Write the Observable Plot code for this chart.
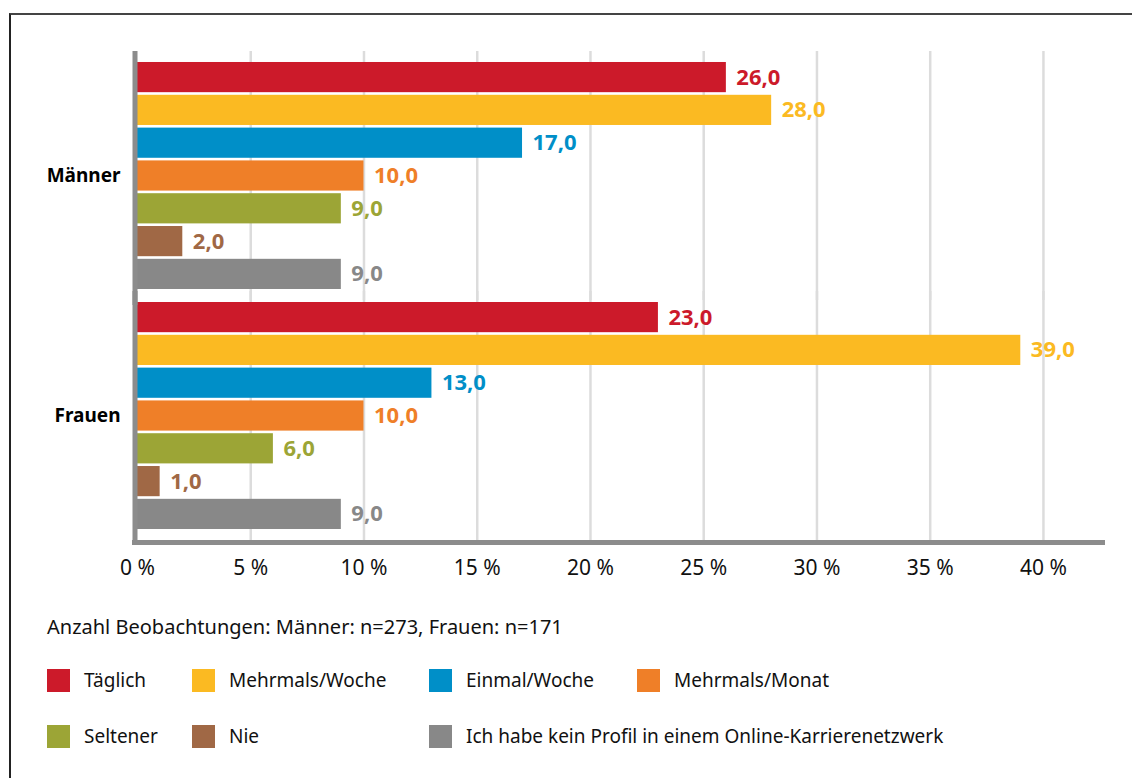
<!DOCTYPE html>
<html>
<head>
<meta charset="utf-8">
<script src="https://cdn.jsdelivr.net/npm/d3@7"></script>
<script src="https://cdn.jsdelivr.net/npm/@observablehq/plot@0.6"></script>
<style>
  html, body { margin: 0; padding: 0; background: #fff; }
  body { width: 1132px; height: 778px; position: relative; overflow: hidden; font-family: "Noto Sans", sans-serif; }
  #frame { position: absolute; left: 9px; top: 13px; right: 0; bottom: 0; border-top: 2px solid #444; border-left: 2px solid #222; }
  #chart { position: absolute; left: 0; top: 0; }
  #chart svg { background: transparent; }
  #caption { position: absolute; left: 47px; top: 614px; font-size: 20px; color: #111; line-height: 26px; }
  .legend-row { position: absolute; left: 47px; display: flex; font-size: 19px; color: #111; line-height: 24px; }
  .item { display: flex; align-items: center; }
  .sw { width: 23px; height: 23px; margin-right: 14px; flex: none; }
</style>
</head>
<body>
<div id="frame"></div>
<div id="chart"></div>
<div id="caption"></div>
<div id="legend"></div>
<script>
const genders = ["Männer", "Frauen"];
const categories = ["Täglich", "Mehrmals/Woche", "Einmal/Woche", "Mehrmals/Monat", "Seltener", "Nie", "Ich habe kein Profil in einem Online-Karrierenetzwerk"];
const maenner = [26, 28, 17, 10, 9, 2, 9];
const frauen = [23, 39, 13, 10, 6, 1, 9];
const colors = ["#cc1a2a", "#fbba22", "#008fc8", "#ef7f28", "#9ca536", "#a06845", "#888888"];
const xTicks = [0, 5, 10, 15, 20, 25, 30, 35, 40];
const xMax = 42.74;
const captionText = "Anzahl Beobachtungen: Männer: n=273, Frauen: n=171";
const legendRows = [[0, 1, 2, 3], [4, 5, 6]];
const legendColWidths = [145, 237, 208, 300];

const data = [];
genders.forEach((g, gi) => {
  const vals = gi === 0 ? maenner : frauen;
  categories.forEach((c, ci) => data.push({gender: g, category: c, value: vals[ci]}));
});
const fmt = v => v.toFixed(1).replace(".", ",");

const plot = Plot.plot({
  width: 1132,
  height: 600,
  marginLeft: 137,
  marginRight: 27,
  marginTop: 51,
  marginBottom: 60,
  style: {fontFamily: "Noto Sans, sans-serif", background: "transparent"},
  x: {domain: [0, xMax], axis: null},
  y: {domain: categories, axis: null, paddingInner: 0.08, paddingOuter: 0, round: false},
  fy: {domain: genders, paddingInner: 0.0542, paddingOuter: 0.0458, label: null, axis: null, round: false},
  color: {domain: categories, range: colors},
  marks: [
    Plot.ruleX(xTicks.slice(1), {stroke: "#dcdcdc", strokeWidth: 2.5, insetTop: -11, insetBottom: -11}),
    Plot.barX(data, {fy: "gender", y: "category", x: "value", fill: "category"}),
    Plot.text(data, {fy: "gender", y: "category", x: "value", text: d => fmt(d.value), fill: "category",
      dx: 10, textAnchor: "start", fontWeight: "bold", fontSize: 22}),
    Plot.ruleX([0], {stroke: "#8c8c8c", strokeWidth: 5, dx: -2.5, insetTop: -11, insetBottom: -16}),
    Plot.ruleY(data.filter(d => d.gender === genders[1] && d.category === categories[categories.length - 1]),
      {fy: "gender", y: "category", stroke: "#8c8c8c", strokeWidth: 5, dy: 28, insetLeft: -5}),
    Plot.axisX({ticks: xTicks, tickFormat: d => d + " %", tickSize: 0, tickPadding: 31, fontSize: 21, fill: "#111", label: null, anchor: "bottom"}),
    Plot.axisFy({anchor: "left", tickSize: 0, tickPadding: 17, fontSize: 19, fontWeight: "bold", fill: "#000", label: null})
  ]
});
document.getElementById("chart").appendChild(plot);

document.getElementById("caption").textContent = captionText;
const legend = document.getElementById("legend");
const rowTops = [668, 724];
legendRows.forEach((row, ri) => {
  const r = document.createElement("div");
  r.className = "legend-row";
  r.style.top = rowTops[ri] + "px";
  row.forEach((ci, k) => {
    const it = document.createElement("div");
    it.className = "item";
    it.style.width = legendColWidths[k] + "px";
    const sw = document.createElement("div");
    sw.className = "sw";
    sw.style.background = colors[ci];
    const lb = document.createElement("span");
    lb.textContent = categories[ci];
    lb.style.whiteSpace = "nowrap";
    it.appendChild(sw); it.appendChild(lb);
    r.appendChild(it);
  });
  legend.appendChild(r);
});
</script>
</body>
</html>
